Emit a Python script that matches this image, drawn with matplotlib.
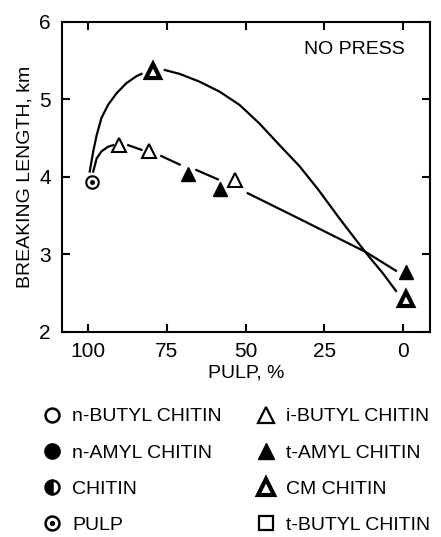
import matplotlib
matplotlib.use('Agg')
import matplotlib.pyplot as plt
import numpy as np
from matplotlib.lines import Line2D

plt.rcParams['font.family'] = ['Liberation Sans', 'DejaVu Sans']

nan = np.nan

# markers
pulp_x, pulp_y = [98.7], [3.93]
ibutyl_x = [90.2, 80.7, 53.5]
ibutyl_y = [4.41, 4.33, 3.96]
tamyl_x = [68.4, 58.2, -1.0]
tamyl_y = [4.04, 3.85, 2.77]
cm_x = [79.4, -1.0]
cm_y = [5.37, 2.42]

# solid curve (CM chitin), broken at the peak marker
solid_x = [99.4, 98.3, 97.2, 95.7, 93.6, 90.9, 87.8, 84.6, 83.0, nan,
           75.6, 70.9, 64.6, 58.2, 51.9, 45.6, 39.2, 32.9, 27.0,
           20.3, 13.9, 10.8, 6.5, 2.3]
solid_y = [4.07, 4.33, 4.54, 4.76, 4.93, 5.08, 5.21, 5.30, 5.33, nan,
           5.38, 5.33, 5.23, 5.10, 4.93, 4.69, 4.41, 4.14, 3.84,
           3.47, 3.13, 2.97, 2.76, 2.53]

# broken curve (i-butyl / t-amyl), pieces between the markers
dash_x = [98.3, 97.2, 95.7, 93.6, 92.0, nan, 87.2, 83.0, nan, 76.7, 70.9, nan,
          65.6, 58.8, nan, 49.3, 32.9, 11.8, 2.3]
dash_y = [4.07, 4.24, 4.33, 4.39, 4.41, nan, 4.41, 4.35, nan, 4.27, 4.16, nan,
          4.09, 3.97, nan, 3.79, 3.46, 3.03, 2.79]

xticks = [100, 75, 50, 25, 0]
yticks = [2, 3, 4, 5, 6]

fig = plt.figure(figsize=(4.41, 5.37), dpi=100)
ax = fig.add_axes([0.1406, 0.3818, 0.8345, 0.5773])

ax.plot(solid_x, solid_y, color='black', lw=1.6, solid_joinstyle='round')
ax.plot(dash_x, dash_y, color='black', lw=1.6, solid_joinstyle='round')

ax.plot(pulp_x, pulp_y, 'o', ms=9, mfc='white', mec='black', mew=1.5, zorder=5)
ax.plot(pulp_x, pulp_y, 'o', ms=2.5, color='black', zorder=6)
ax.plot(ibutyl_x, ibutyl_y, '^', ms=10, mfc='white', mec='black', mew=1.5, zorder=5)
ax.plot(tamyl_x, tamyl_y, '^', ms=10, color='black', zorder=5)
ax.plot(cm_x, cm_y, '^', ms=10, mfc='white', mec='black', mew=3, zorder=5)

ax.text(0.93, 0.91, 'NO PRESS', transform=ax.transAxes, ha='right', va='center', fontsize=14)

ax.set_xlim(108.2, -8.5)
ax.set_ylim(2, 6)
ax.set_xticks(xticks)
ax.set_yticks(yticks)
ax.tick_params(direction='in', length=6, width=1.5, top=True, right=True,
               labelsize=15)
ax.tick_params(axis='x', pad=7)
ax.tick_params(axis='y', pad=8)
for s in ax.spines.values():
    s.set_linewidth(1.5)
ax.set_xlabel('PULP, %', fontsize=14, labelpad=3)
ax.set_ylabel('BREAKING LENGTH, km', fontsize=14, labelpad=4)

handles = [
    Line2D([], [], ls='none', marker='o', ms=10, mfc='white', mec='black', mew=1.8),
    Line2D([], [], ls='none', marker='o', ms=11, color='black'),
    Line2D([], [], ls='none', marker='o', ms=10, fillstyle='left', color='black',
           markerfacecoloralt='white', mew=1.8),
    (Line2D([], [], ls='none', marker='o', ms=10, mfc='white', mec='black', mew=1.8),
     Line2D([], [], ls='none', marker='o', ms=2.8, color='black')),
    Line2D([], [], ls='none', marker='^', ms=11, mfc='white', mec='black', mew=1.6),
    Line2D([], [], ls='none', marker='^', ms=11, color='black'),
    Line2D([], [], ls='none', marker='^', ms=11, mfc='white', mec='black', mew=3),
    Line2D([], [], ls='none', marker='s', ms=10, mfc='white', mec='black', mew=1.6),
]
labels = ['n-BUTYL CHITIN', 'n-AMYL CHITIN', 'CHITIN', 'PULP',
          'i-BUTYL CHITIN', 't-AMYL CHITIN', 'CM CHITIN', 't-BUTYL CHITIN']
fig.legend(handles, labels, ncol=2, loc='upper left', bbox_to_anchor=(0.078, 0.255),
           frameon=False, fontsize=14, handlelength=1.0, handletextpad=0.55,
           columnspacing=1.75, labelspacing=0.95, borderaxespad=0)

fig.savefig('out.png', dpi=100)
